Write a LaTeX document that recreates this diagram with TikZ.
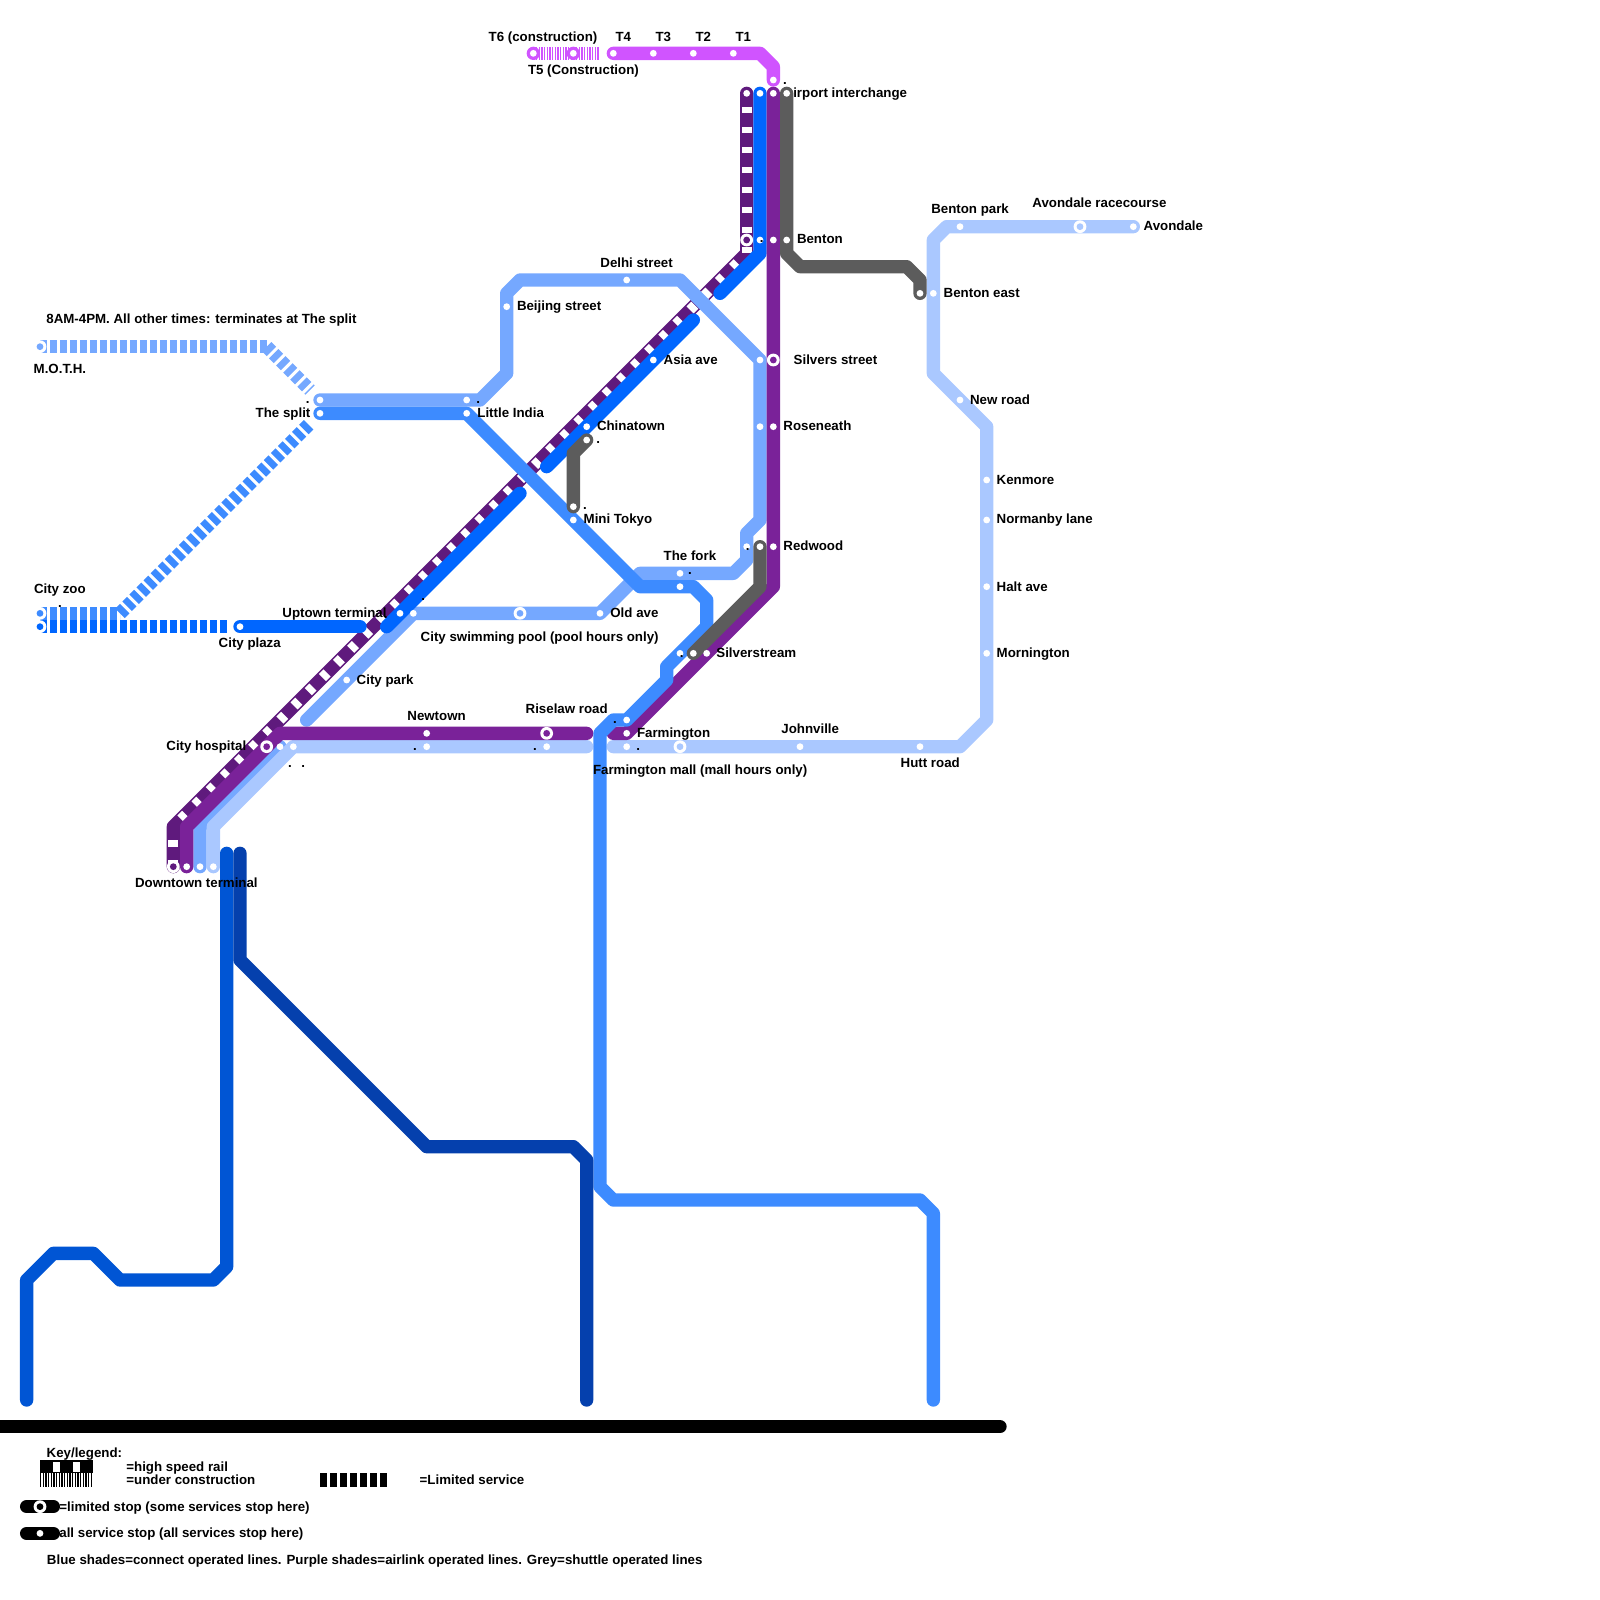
\documentclass[tikz,border=0pt]{standalone}
\usepackage{fontspec}
\setmainfont{Liberation Sans}[BoldFont={Liberation Sans Bold}]
\definecolor{cpink}{HTML}{D054FF}
\definecolor{cdark}{HTML}{5F1A7D}
\definecolor{cpurple}{HTML}{7A2299}
\definecolor{cbright}{HTML}{0066FF}
\definecolor{clight}{HTML}{75A8FF}
\definecolor{cmed}{HTML}{3D8BFF}
\definecolor{cperi}{HTML}{AAC8FF}
\definecolor{cgrey}{HTML}{5C5C5C}
\definecolor{cblue}{HTML}{0055D4}
\definecolor{cnavy}{HTML}{0540AD}
\tikzset{
  rail/.style={line width=6.667pt,line cap=round,line join=round},
  railbutt/.style={line width=6.667pt,line cap=butt},
  fast/.style={line width=5pt,white,line cap=butt,dash pattern=on 3.333pt off 6.667pt,dash phase=3.333pt},
  limited/.style={line width=6.667pt,line cap=butt,dash pattern=on 3.333pt off 1.667pt},
  building/.style={line width=6.667pt,line cap=butt,dash pattern=on 0.667pt off 0.667pt},
  lab/.style={inner sep=0pt,font=\bfseries\fontsize{6.65pt}{8pt}\selectfont,text=black,yshift=-2.7pt},
  labw/.style={lab,anchor=base west,xshift=-0.35pt},
  labe/.style={lab,anchor=base east,xshift=0.4pt},
  labc/.style={lab,anchor=base},
  tiny/.style={inner sep=0pt,anchor=base,font=\bfseries\fontsize{6.65pt}{8pt}\selectfont},
}
\newcommand{\stopdot}[2]{\fill[white] (#1,#2) circle[radius=1.7pt];}
\newcommand{\ringstop}[3]{\fill[white] (#1,#2) circle[radius=3.2pt];\fill[#3] (#1,#2) circle[radius=1.7pt];}
\begin{document}
\begin{tikzpicture}[x=6.6667pt,y=-6.6667pt]
\useasboundingbox (0,0) rectangle (120,120);
\begin{scope}[x=0.5pt,y=-0.5pt]
\node[labe] (airport) at (906.7,92.3) {Airport interchange};
\end{scope}
% dark purple high speed
\draw[rail,cdark] (56,7) -- (56,19) -- (13,62) -- (13,65);
\draw[fast] (56,7) -- (56,19);
\draw[fast] (56,19) -- (13,62);
\draw[fast] (13,62) -- (13,65);
% light blue
\draw[rail,clight] (24,30) -- (36,30) -- (38,28) -- (38,22) -- (39,21) -- (51,21) -- (57,27) -- (57,39) -- (56,40) -- (56,42) -- (55,43) -- (48,43) -- (45,46) -- (31,46) -- (23,54);
\draw[rail,clight] (21,56) -- (15,62) -- (15,65);
% bright blue
\draw[rail,cbright] (57,7) -- (57,19) -- (54,22);
\draw[rail,cbright] (52,24) -- (41,35);
\draw[rail,cbright] (39,37) -- (29,47);
\draw[rail,cbright] (18,47) -- (27,47);
% periwinkle
\draw[rail,cperi] (85,17) -- (71,17) -- (70,18) -- (70,28) -- (74,32) -- (74,54) -- (72,56) -- (46,56);
\draw[rail,cperi] (44,56) -- (22,56) -- (16,62) -- (16,65);
% limited dashes
\draw[limited,clight] (3,26) -- (20,26);
\draw[limited,clight] (20,26) -- (23.25,29.25);
\draw[limited,cmed] (3,46) -- (9,46);
\draw[limited,cmed] (9,46) -- (23.25,31.75);
\draw[limited,cbright] (3,47) -- (17,47);
% purple
\draw[rail,cpurple] (58,7) -- (58,44) -- (47,55) -- (46,55);
\draw[rail,cpurple] (44,55) -- (21,55) -- (14,62) -- (14,65);
% medium blue
\draw[rail,cmed] (24,31) -- (35,31) -- (48,44) -- (52,44) -- (53,45) -- (53,47) -- (50,50) -- (50,51) -- (47,54) -- (46,54) -- (45,55) -- (45,89) -- (46,90) -- (69,90) -- (70,91) -- (70,105);
% blues at bottom
\draw[rail,cblue] (17,64) -- (17,95) -- (16,96) -- (9,96) -- (7,94) -- (4,94) -- (2,96) -- (2,105);
\draw[rail,cnavy] (18,64) -- (18,72) -- (32,86) -- (43,86) -- (44,87) -- (44,105);
% grey
\draw[rail,cgrey] (59,7) -- (59,19) -- (60,20) -- (68,20) -- (69,21) -- (69,22);
\draw[rail,cgrey] (44,33) -- (43,34) -- (43,38);
\draw[rail,cgrey] (57,41) -- (57,44) -- (52,49);
% pink
\draw[rail,cpink] (46,4) -- (57,4) -- (58,5) -- (58,6);
\fill[cpink] (40,4) circle[radius=3.333pt];
\fill[cpink] (43,4) circle[radius=3.333pt];
\draw[building,cpink] (40,4) -- (45,4);
% black bar
\draw[rail,black] (-2,107) -- (75,107);
% legend graphics
\draw[railbutt,black] (3,110) -- (7,110);
\draw[fast] (3,110) -- (7,110);
\draw[building,black] (3,111) -- (7,111);
\draw[limited,black] (24,111) -- (29,111);
\draw[rail,black] (2,113) -- (4,113);
\draw[rail,black] (2,115) -- (4,115);
% stops
\foreach \a/\b in {46/4,49/4,52/4,55/4,40/4,43/4,58/6,56/7,57/7,58/7,59/7,57/18,58/18,59/18,47/21,38/23,24/30,24/31,35/30,35/31,49/27,57/27,57/32,58/32,44/32,44/33,43/38,43/39,56/41,57/41,58/41,51/43,51/44,30/46,31/46,45/46,18/47,26/51,51/49,52/49,53/49,47/54,47/55,47/56,32/55,32/56,41/56,21/56,22/56,14/65,15/65,16/65,60/56,69/56,70/22,69/22,72/17,85/17,72/30,74/36,74/39,74/44,74/49,3/115}{\stopdot{\a}{\b}}
\ringstop{56}{18}{cdark}
\ringstop{58}{27}{cpurple}
\ringstop{39}{46}{clight}
\ringstop{41}{55}{cpurple}
\ringstop{20}{56}{cpurple}
\ringstop{51}{56}{cperi}
\ringstop{81}{17}{cperi}
\ringstop{13}{65}{cdark}
\ringstop{3}{113}{black}
\ringstop{3}{26}{clight}
\ringstop{3}{46}{cmed}
\ringstop{3}{47}{cbright}
% labels
\begin{scope}[x=0.5pt,y=-0.5pt]
\node[labw] (t6) at (489,35.7) {T6 (construction)};
\node[labc] (t4) at (623.3,35.7) {T4};
\node[labc] (t3) at (663.3,35.7) {T3};
\node[labc] (t2) at (703.3,35.7) {T2};
\node[labc] (t1) at (743.3,35.7) {T1};
\node[labw] (t5) at (528.3,69) {T5 (Construction)};
\node[labw] (benton) at (797.3,238.3) {Benton};
\node[labw] (delhi) at (600.7,261.7) {Delhi street};
\node[labw] (beijing) at (517.3,305) {Beijing street};
\node[labw] (note) at (46.7,318.3) {8AM-4PM. All other times: terminates at The split};
\node[labw] (moth) at (34,368.3) {M.O.T.H.};
\node[labe] (split) at (310,411.7) {The split};
\node[labw] (zoo) at (34.3,588.3) {City zoo};
\node[labw] (plaza) at (219,641.7) {City plaza};
\node[labw] (uptown) at (282.7,611.7) {Uptown terminal};
\node[labw] (hospital) at (166.7,745) {City hospital};
\node[labe] (downtown) at (257.3,881.7) {Downtown terminal};
\node[labw] (newtown) at (407.7,715) {Newtown};
\node[labw] (india) at (477.7,411.7) {Little India};
\node[labw] (chinatown) at (597.3,425) {Chinatown};
\node[labw] (tokyo) at (584,518.3) {Mini Tokyo};
\node[labw] (pool) at (421,635.7) {City swimming pool (pool hours only)};
\node[labw] (oldave) at (610.7,611.7) {Old ave};
\node[labw] (fork) at (664,555) {The fork};
\node[labw] (riselaw) at (526,708.3) {Riselaw road};
\node[labw] (farmington) at (637.3,731.7) {Farmington};
\node[labw] (johnville) at (781.7,728.3) {Johnville};
\node[labw] (mall) at (593.3,769) {Farmington mall (mall hours only)};
\node[labw] (silverstream) at (716.7,651.7) {Silverstream};
\node[labw] (redwood) at (783.7,545) {Redwood};
\node[labw] (asia) at (664,359) {Asia ave};
\node[labw] (park) at (357,678.6) {City park};
\node[labw] (silvers) at (794,359) {Silvers street};
\node[labw] (roseneath) at (783.7,425.5) {Roseneath};
\node[labw] (bentonpark) at (931.6,208) {Benton park};
\node[labw] (racecourse) at (1032.7,202) {Avondale racecourse};
\node[labw] (avondale) at (1144,225.5) {Avondale};
\node[labw] (bentoneast) at (944,292) {Benton east};
\node[labw] (newroad) at (970.4,399) {New road};
\node[labw] (kenmore) at (997,478.6) {Kenmore};
\node[labw] (normanby) at (997,518.4) {Normanby lane};
\node[labw] (halt) at (997,585.7) {Halt ave};
\node[labw] (mornington) at (997,652) {Mornington};
\node[labw] (hutt) at (901,762) {Hutt road};
\node[labw] (keyhead) at (47,1451.7) {Key/legend:};
\node[labw] (khigh) at (126.7,1465.7) {=high speed rail};
\node[labw] (kunder) at (126.7,1479) {=under construction};
\node[labw] (klimited) at (420,1479) {=Limited service};
\node[labw] (kstop) at (59.7,1505.7) {=limited stop (some services stop here)};
\node[labw] (kall) at (59.7,1532.3) {all service stop (all services stop here)};
\node[labw] (kshades) at (47.3,1559) {Blue shades=connect operated lines. Purple shades=airlink operated lines. Grey=shuttle operated lines};
\foreach \a/\b [count=\i] in {785/84,761.7/242.5,307.7/403,60/607,385.7/618,290/767,303.3/767,415/750.5,690/574,747.7/550,681.7/657,615/723.5,638.3/750.5,535/750.5,478.3/403.5,598.3/443.5,585/509,423.3/600}{
  \node[tiny] (dot\i) at (\a,\b) {.};
}
\end{scope}
\end{tikzpicture}
\end{document}
